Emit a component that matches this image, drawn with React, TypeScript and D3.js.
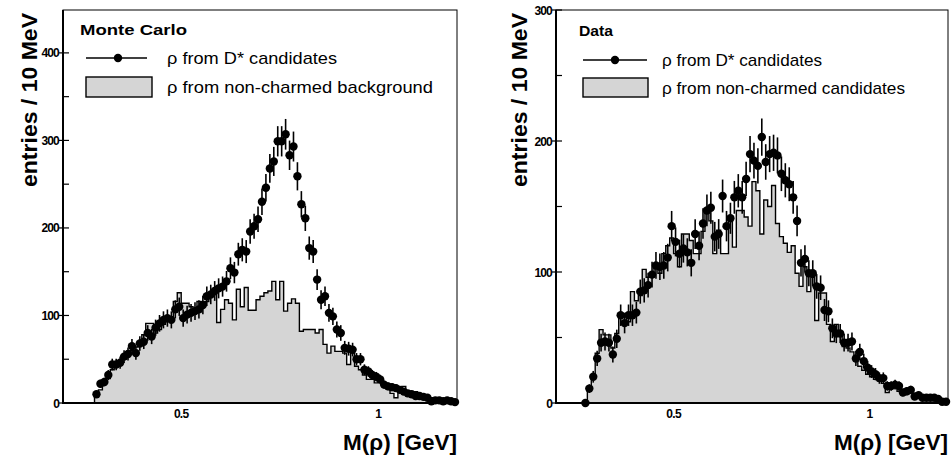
import React from "react";
import * as d3 from "d3";

// ---------- data (entries per 10 MeV bin) ----------
const BIN_WIDTH = 0.01; // GeV
const X_MIN = 0.2;
const X_MAX = 1.2;

// Monte Carlo panel, bins start at 0.28 GeV
const MC_START = 0.28;
const mcDstar = [
  10, 22, 24, 32, 44, 44, 46, 53, 56, 65, 57, 68, 70, 80, 76, 86, 91, 95, 97, 95,
  107, 110, 97, 101, 103, 105, 107, 112, 122, 124, 128, 131, 133, 139, 154, 149, 170, 175, 173, 196,
  202, 210, 230, 246, 268, 276, 299, 299, 307, 283, 293, 259, 227, 211, 177, 173, 141, 118, 122, 103,
  99, 84, 80, 63, 62, 61, 50, 50, 38, 36, 32, 30, 27, 21, 19, 18, 17, 15, 13, 11,
  10, 8, 8, 7, 6, 2, 3, 3, 2, 3, 2, 1,
];
const mcBkg = [
  8, 15, 22, 28, 38, 45, 45, 50, 54, 60, 64, 70, 78, 91, 91, 80, 84, 90, 94, 98,
  116, 126, 114, 114, 110, 104, 116, 112, 116, 122, 124, 92, 107, 118, 114, 95, 130, 110, 132, 106,
  106, 118, 122, 126, 128, 139, 118, 139, 105, 114, 119, 114, 82, 84, 84, 84, 80, 84, 67, 57,
  65, 59, 59, 57, 44, 57, 42, 38, 32, 27, 27, 23, 25, 19, 19, 11, 6, 15, 19, 13,
  10, 13, 10, 8, 8, 6, 4, 3, 2, 2, 1, 1,
];

// Data panel, bins start at 0.27 GeV
const DATA_START = 0.27;
const dataDstar = [
  0, 11, 20, 34, 46, 47, 46, 37, 49, 67, 61, 67, 67, 69, 85, 86, 90, 98, 105, 104,
  105, 111, 135, 123, 114, 118, 115, 107, 129, 120, 137, 147, 149, 127, 129, 158, 135, 141, 157, 162,
  157, 171, 190, 185, 181, 203, 184, 190, 191, 189, 175, 170, 167, 157, 139, 107, 110, 99, 99, 89,
  88, 71, 70, 57, 53, 53, 46, 46, 47, 34, 39, 32, 27, 24, 22, 19, 19, 13, 13, 14,
  13, 8, 9, 10, 5, 6, 4, 4, 4, 4, 3, 1, 1,
];
const dataBkg = [
  0, 11, 20, 38, 56, 52, 52, 42, 53, 66, 66, 62, 85, 78, 82, 102, 96, 96, 104, 99,
  114, 120, 126, 114, 104, 129, 129, 124, 114, 114, 131, 145, 139, 114, 132, 114, 114, 142, 119, 147,
  147, 142, 135, 169, 162, 129, 155, 150, 166, 137, 127, 122, 115, 120, 99, 89, 104, 85, 96, 63,
  84, 84, 60, 47, 60, 53, 43, 42, 39, 33, 28, 25, 22, 20, 18, 17, 15, 8, 13, 14,
  9, 8, 9, 9, 5, 5, 6, 6, 4, 4, 2, 2, 2,
];

const mcYTicks = [0, 100, 200, 300, 400];
const mcYMinor = [50, 150, 250, 350];
const dataYTicks = [0, 100, 200, 300];
const dataYMinor = [50, 150, 250];
const xTickValues = [0.5, 1];
const xTickLabels = ["0.5", "1"];

const FONT = "'Liberation Sans', Arial, Helvetica, sans-serif";
const GRAY = "#d5d5d5";

type PanelProps = {
  left: number;
  right: number;
  top: number;
  bottom: number;
  yMax: number;
  yTicks: number[];
  yMinor: number[];
  start: number;
  points: number[];
  bkg: number[];
  title: string;
  legend1: string;
  legend2: string;
  lg: {
    titleX: number; titleY: number; titleW: number;
    lineX0: number; lineX1: number; lineY: number; markX: number;
    boxX: number; boxY: number; boxW: number; boxH: number;
    textX: number; text1W: number; text2W: number;
  };
  yLabelX: number;
};

function Panel(p: PanelProps) {
  const x = d3.scaleLinear().domain([X_MIN, X_MAX]).range([p.left, p.right]);
  const y = d3.scaleLinear().domain([0, p.yMax]).range([p.bottom, p.top]);

  // stepped histogram outline
  const pts: [number, number][] = [];
  pts.push([x(p.start), y(0)]);
  p.bkg.forEach((v, i) => {
    const e0 = p.start + i * BIN_WIDTH;
    const e1 = e0 + BIN_WIDTH;
    pts.push([x(e0), y(v)]);
    pts.push([x(e1), y(v)]);
  });
  pts.push([x(p.start + p.bkg.length * BIN_WIDTH), y(0)]);
  const histPath = d3.line()(pts) as string;

  const lg = p.lg;
  return (
    <g>
      <path d={histPath} fill={GRAY} stroke="#000" strokeWidth={1.4} strokeLinejoin="miter" />
      {/* points with error bars */}
      {p.points.map((v, i) => {
        const cx = x(p.start + (i + 0.5) * BIN_WIDTH);
        const err = Math.sqrt(v);
        return (
          <g key={i}>
            {v > 0 && (
              <line x1={cx} x2={cx} y1={y(v - err)} y2={y(v + err)} stroke="#000" strokeWidth={1.6} />
            )}
            <circle cx={cx} cy={y(v)} r={4.2} fill="#000" />
          </g>
        );
      })}
      {/* frame */}
      <rect x={p.left} y={p.top} width={p.right - p.left} height={p.bottom - p.top} fill="none" stroke="#000" strokeWidth={1} />
      <line x1={p.left} x2={p.left} y1={p.top} y2={p.bottom} stroke="#000" strokeWidth={2} />
      <line x1={p.left - 1} x2={p.right + 0.5} y1={p.bottom} y2={p.bottom} stroke="#000" strokeWidth={2} />
      {/* y ticks */}
      {p.yTicks.map((t) => (
        <g key={"yt" + t}>
          <line x1={p.left - 4} x2={p.left + 6} y1={y(t)} y2={y(t)} stroke="#000" strokeWidth={1.2} />
          <text x={p.left - 4} y={y(t) + 4.5} textAnchor="end" fontFamily={FONT} fontWeight="bold" fontSize={12} letterSpacing={-0.8}>
            {t}
          </text>
        </g>
      ))}
      {p.yMinor.map((t) => (
        <line key={"ym" + t} x1={p.left} x2={p.left + 6} y1={y(t)} y2={y(t)} stroke="#000" strokeWidth={1.2} />
      ))}
      {/* x tick labels */}
      {xTickValues.map((t, i) => (
        <text key={"xt" + t} x={x(t)} y={p.bottom + 15} textAnchor="middle" fontFamily={FONT} fontWeight="bold" fontSize={12} letterSpacing={-0.7}>
          {xTickLabels[i]}
        </text>
      ))}
      {/* axis titles */}
      <text x={p.right} y={450} textAnchor="end" fontFamily={FONT} fontWeight="bold" fontSize={22} textLength={114} lengthAdjust="spacingAndGlyphs">
        M(ρ) [GeV]
      </text>
      <text
        transform={`translate(${p.yLabelX},13) rotate(-90)`}
        textAnchor="end"
        fontFamily={FONT}
        fontWeight="bold"
        fontSize={22}
        textLength={174}
        lengthAdjust="spacingAndGlyphs"
      >
        entries / 10 MeV
      </text>
      {/* legend */}
      <text x={lg.titleX} y={lg.titleY} fontFamily={FONT} fontWeight="bold" fontSize={15} textLength={lg.titleW} lengthAdjust="spacingAndGlyphs">
        {p.title}
      </text>
      <line x1={lg.lineX0} x2={lg.lineX1} y1={lg.lineY} y2={lg.lineY} stroke="#000" strokeWidth={1.3} />
      <circle cx={lg.markX} cy={lg.lineY} r={4.2} fill="#000" />
      <text x={lg.textX} y={lg.lineY + 6} fontFamily={FONT} fontSize={17} textLength={lg.text1W} lengthAdjust="spacingAndGlyphs">
        {p.legend1}
      </text>
      <rect x={lg.boxX} y={lg.boxY} width={lg.boxW} height={lg.boxH} fill={GRAY} stroke="#000" strokeWidth={1.4} />
      <text x={lg.textX} y={lg.boxY + lg.boxH / 2 + 6} fontFamily={FONT} fontSize={17} textLength={lg.text2W} lengthAdjust="spacingAndGlyphs">
        {p.legend2}
      </text>
    </g>
  );
}

export default function App() {
  return (
    <svg width={952} height={457} style={{ position: "absolute", left: 0, top: 0, background: "#fff" }}>
      <rect x={0} y={0} width={952} height={457} fill="#fff" />
      <Panel
        left={63}
        right={457}
        top={10}
        bottom={403}
        yMax={449}
        yTicks={mcYTicks}
        yMinor={mcYMinor}
        start={MC_START}
        points={mcDstar}
        bkg={mcBkg}
        title="Monte Carlo"
        legend1="ρ from D* candidates"
        legend2="ρ from non-charmed background"
        lg={{
          titleX: 80, titleY: 35, titleW: 107,
          lineX0: 86, lineX1: 147, lineY: 58, markX: 118,
          boxX: 86, boxY: 77, boxW: 66, boxH: 20,
          textX: 167, text1W: 170, text2W: 266,
        }}
        yLabelX={37}
      />
      <Panel
        left={556}
        right={948}
        top={10}
        bottom={403}
        yMax={300}
        yTicks={dataYTicks}
        yMinor={dataYMinor}
        start={DATA_START}
        points={dataDstar}
        bkg={dataBkg}
        title="Data"
        legend1="ρ from D* candidates"
        legend2="ρ from non-charmed candidates"
        lg={{
          titleX: 579, titleY: 36, titleW: 34,
          lineX0: 583, lineX1: 647, lineY: 60, markX: 615,
          boxX: 583, boxY: 78, boxW: 65, boxH: 19,
          textX: 662, text1W: 160, text2W: 243,
        }}
        yLabelX={527}
      />
    </svg>
  );
}
